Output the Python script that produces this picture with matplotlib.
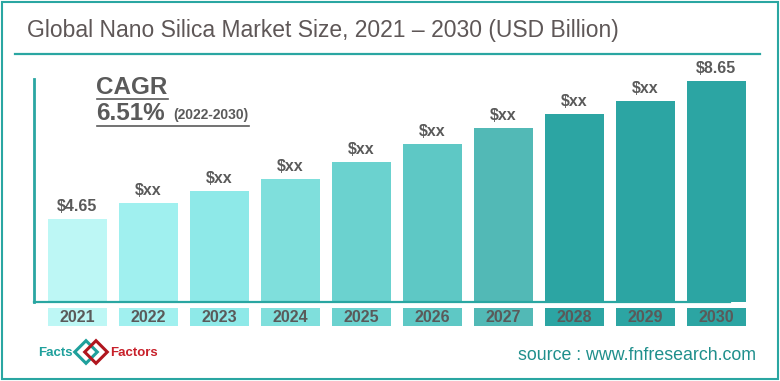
import matplotlib.pyplot as plt
import matplotlib.patches as patches
from matplotlib.lines import Line2D
import matplotlib.transforms as mtransforms

plt.rcParams['font.family'] = ['Liberation Sans', 'DejaVu Sans']

years = ["2021", "2022", "2023", "2024", "2025", "2026", "2027", "2028", "2029", "2030"]
values = [4.65, 5.11, 5.46, 5.81, 6.30, 6.82, 7.28, 7.69, 8.07, 8.65]
labels = ["$4.65", "$xx", "$xx", "$xx", "$xx", "$xx", "$xx", "$xx", "$xx", "$8.65"]
colors = ["#bdf7f5", "#a0f0ef", "#8ee9e8", "#7fdfdc", "#6bd2cf", "#5ec8c5",
          "#52b9b6", "#2ca5a3", "#2ca5a3", "#2ca5a3"]

W, H = 780, 381
TEAL = "#2aa6a2"
GRAY = "#5a5a5a"

fig = plt.figure(figsize=(W / 100, H / 100), dpi=100)


def fx(px):
    return px / W


def fy(py):
    return 1 - py / H


# outer frame
fig.patches.append(patches.Rectangle((fx(1.5), fy(379)), fx(776), 377 / H,
                                     transform=fig.transFigure, fill=False,
                                     edgecolor=TEAL, linewidth=1.5))

# title and rule
fig.text(fx(27), fy(31), "Global Nano Silica Market Size, 2021 \u2013 2030 (USD Billion)",
         fontsize=16.5, color="#5e5757", va="center", ha="left")
fig.add_artist(Line2D([fx(15), fx(760)], [fy(54), fy(54)], color=TEAL, linewidth=1.6))

# axes area
ax_left, ax_right, ax_top, ax_bot = 34, 760, 79, 302
ax = fig.add_axes([fx(ax_left), fy(ax_bot), fx(ax_right - ax_left), (ax_bot - ax_top) / H])
step = 71
x0 = -(77 - ax_left) / step
ax.set_xlim(x0, x0 + (ax_right - ax_left) / step)
base = 2.24
scale = 34.5
ax.set_ylim(base, base + (ax_bot - ax_top) / scale)

xs = list(range(len(years)))
ax.bar(xs, [v - base for v in values], bottom=base, width=59 / step,
       color=colors, zorder=2)
for x, v, lab in zip(xs, values, labels):
    ax.text(x, v + 5 / scale, lab, ha="center", va="bottom", fontsize=11.5,
            fontweight="bold", color=GRAY)

for s in ["top", "right"]:
    ax.spines[s].set_visible(False)
ax.spines["left"].set_color(TEAL)
ax.spines["left"].set_linewidth(2)
ax.spines["bottom"].set_color(TEAL)
ax.spines["bottom"].set_linewidth(1.6)
ax.spines["bottom"].set_bounds(x0, x0 + (730 - ax_left) / step)
ax.set_xticks([])
ax.set_yticks([])
ax.patch.set_visible(False)

# year boxes below the axis
trans = mtransforms.blended_transform_factory(ax.transData, ax.transAxes)
ah = ax_bot - ax_top
for x, y, c in zip(xs, years, colors):
    ax.add_patch(patches.Rectangle((x - 59 / step / 2, -24 / ah), 59 / step, 18 / ah,
                                   transform=trans, facecolor=c, edgecolor="none",
                                   clip_on=False))
    ax.text(x, -15.5 / ah, y, transform=trans, ha="center", va="center",
            fontsize=11.5, fontweight="bold", color=GRAY)

# CAGR note
fig.text(fx(96), fy(87), "CAGR", fontsize=17.5, fontweight="bold", color=GRAY,
         ha="left", va="center")
fig.add_artist(Line2D([fx(97), fx(168)], [fy(98.5), fy(98.5)], color=GRAY, linewidth=1.2))
fig.text(fx(96), fy(113.5), "6.51%", fontsize=17.5, fontweight="bold", color=GRAY,
         ha="left", va="center")
fig.text(fx(173), fy(115.5), "(2022-2030)", fontsize=10, fontweight="bold", color=GRAY,
         ha="left", va="center")
fig.add_artist(Line2D([fx(97), fx(249)], [fy(126), fy(126)], color=GRAY, linewidth=1.2))

# source
fig.text(fx(756), fy(355), "source : www.fnfresearch.com", fontsize=12.8,
         color="#1f8f8c", ha="right", va="center")

# logo
fig.text(fx(38), fy(353), "Facts", fontsize=9.5, fontweight="bold", color="#1fa09c",
         ha="left", va="center")
fig.text(fx(110), fy(353), "Factors", fontsize=9.5, fontweight="bold", color="#c8202a",
         ha="left", va="center")
for dx, c in [(-5, "#1fa09c"), (5, "#b0161e")]:
    r = patches.Rectangle((fx(91 + dx) - fx(8), fy(352) - 8 / H), fx(16), 16 / H,
                          transform=fig.transFigure, fill=False, edgecolor=c,
                          linewidth=2.2)
    t = mtransforms.Affine2D().rotate_deg_around(fx(91 + dx) * W, fy(352) * H, 45)
    r.set_transform(mtransforms.Affine2D().scale(W, H) + t)
    fig.patches.append(r)

fig.savefig("out.png", dpi=100)
